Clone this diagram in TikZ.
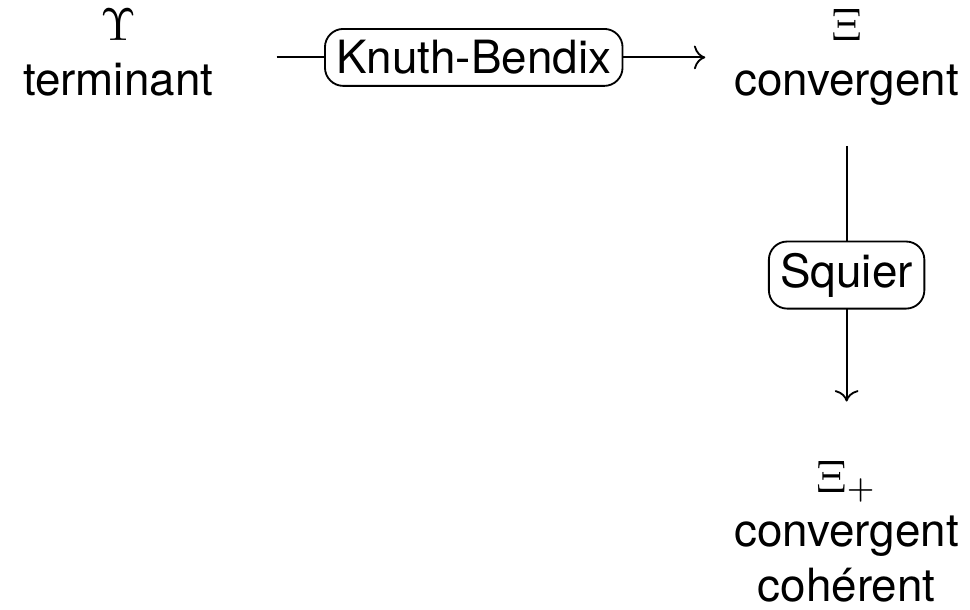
\documentclass[tikz,border=0pt]{standalone}
\usepackage{fontspec}
\setmainfont{TeX Gyre Heros}
\usetikzlibrary{arrows.meta, positioning}

\begin{document}
\begin{tikzpicture}[>={To}, node distance=2cm,
        cell/.style={align=center, inner sep=3.33pt},
        rewrite/.style={rectangle, draw, fill=white, rounded corners=4pt, inner sep=2.5pt},
        arrow/.style={->}]
        \useasboundingbox (-25.8pt,-1.5pt) rectangle (186pt,-134.5pt);

        \node[cell, anchor=north] (term) at (0,0) {$\Upsilon$\\terminant};
        \node[cell, right=106.7pt of term.north east, anchor=north west] (conv) {$\Xi$\\convergent};
        \node[cell, below=70.5pt of conv] (coh) {$\Xi_+$\\convergent\\cohérent};

        \draw[arrow, shorten <=10.3pt, shorten >=2.8pt] (term.east |- conv.west) -- node[rewrite] (kb) {Knuth-Bendix} (conv.west);
        \draw[arrow, shorten <=5.3pt, shorten >=9.4pt] (conv) -- node[rewrite, pos=0.475] (sq) {Squier} (coh);
    \end{tikzpicture}
\end{document}
